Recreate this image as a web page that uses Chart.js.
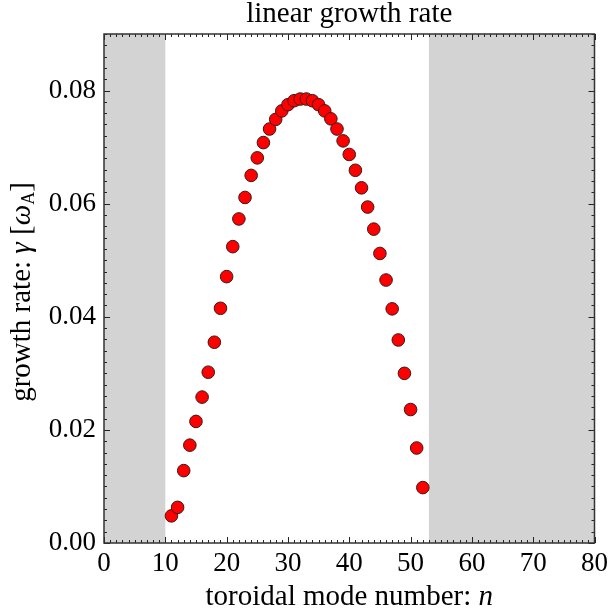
<!DOCTYPE html>
<html>
<head>
<meta charset="utf-8">
<script src="https://cdn.jsdelivr.net/npm/chart.js@4/dist/chart.umd.min.js"></script>
<style>
  html, body { margin: 0; padding: 0; background: #fff; }
  #wrap { width: 613px; height: 613px; }
</style>
</head>
<body>
<div id="wrap"><canvas id="chart" width="613" height="613"></canvas></div>
<script>
// toroidal mode numbers and their linear growth rates
const modeNumbers = [11, 12, 13, 14, 15, 16, 17, 18, 19, 20, 21, 22, 23, 24, 25, 26,
  27, 28, 29, 30, 31, 32, 33, 34, 35, 36, 37, 38, 39, 40, 41, 42, 43, 44, 45, 46,
  47, 48, 49, 50, 51, 52];
const growthRates = [0.0048, 0.0063, 0.0128, 0.0173, 0.0215, 0.0258, 0.0302, 0.0355,
  0.0415, 0.0471, 0.0524, 0.0573, 0.0611, 0.0650, 0.0681, 0.0708, 0.0732, 0.0749,
  0.0764, 0.0775, 0.0782, 0.0785, 0.0785, 0.0782, 0.0775, 0.0764, 0.0750, 0.0732,
  0.0711, 0.0687, 0.0659, 0.0628, 0.0594, 0.0555, 0.0512, 0.0465, 0.0414, 0.0359,
  0.0300, 0.0236, 0.0168, 0.0098];

// shaded (excluded) n ranges
const shadedRanges = [[0, 10], [53, 80]];

const xTicks = [0, 10, 20, 30, 40, 50, 60, 70, 80];
const yTicks = [0, 0.02, 0.04, 0.06, 0.08];
const xMinorStep = 1;
const yMinorStep = 0.002;

const FONT = '"Liberation Serif", "DejaVu Serif", serif';

function drawParts(ctx, parts, cx, cy) {
  // parts: [text, font, dy]
  let total = 0;
  parts.forEach((p) => { ctx.font = p[1]; total += ctx.measureText(p[0]).width; });
  let x = cx - total / 2;
  ctx.textAlign = 'left';
  ctx.textBaseline = 'alphabetic';
  parts.forEach((p) => {
    ctx.font = p[1];
    ctx.fillText(p[0], x, cy + (p[2] || 0));
    x += ctx.measureText(p[0]).width;
  });
}

const shadePlugin = {
  id: 'shade',
  beforeDatasetsDraw(chart) {
    const { ctx, chartArea, scales } = chart;
    ctx.save();
    ctx.fillStyle = '#d3d3d3';
    shadedRanges.forEach(([a, b]) => {
      const x0 = scales.x.getPixelForValue(a);
      const x1 = scales.x.getPixelForValue(b);
      ctx.fillRect(x0, chartArea.top, x1 - x0, chartArea.bottom - chartArea.top);
    });
    ctx.restore();
  },
};

const framePlugin = {
  id: 'frame',
  afterDatasetsDraw(chart) {
    const { ctx, chartArea: a, scales } = chart;
    ctx.save();
    ctx.strokeStyle = '#222';
    ctx.lineWidth = 1;
    const tick = (x0, y0, x1, y1) => {
      ctx.beginPath(); ctx.moveTo(x0, y0); ctx.lineTo(x1, y1); ctx.stroke();
    };
    // x ticks on top and bottom, inward
    for (let v = 0; v <= 80 + 1e-9; v += xMinorStep) {
      const major = xTicks.some((t) => Math.abs(t - v) < 1e-6);
      const len = major ? 6 : 3;
      const px = Math.round(scales.x.getPixelForValue(v)) + 0.5;
      tick(px, a.bottom, px, a.bottom - len);
      tick(px, a.top, px, a.top + len);
    }
    // y ticks on left and right, inward
    for (let i = 0; i <= 45; i++) {
      const v = i * yMinorStep;
      const major = yTicks.some((t) => Math.abs(t - v) < 1e-7);
      const len = major ? 6 : 3;
      const py = Math.round(scales.y.getPixelForValue(v)) + 0.5;
      tick(a.left, py, a.left + len, py);
      tick(a.right, py, a.right - len, py);
    }
    ctx.lineWidth = 1.5;
    ctx.strokeStyle = '#333';
    ctx.strokeRect(a.left, a.top, a.right - a.left, a.bottom - a.top);
    ctx.restore();
  },
};

const labelPlugin = {
  id: 'labels',
  afterDraw(chart) {
    const { ctx, chartArea: a } = chart;
    const cx = (a.left + a.right) / 2;
    ctx.save();
    ctx.fillStyle = '#000';
    // title
    drawParts(ctx, [['linear growth rate', '29px ' + FONT]], cx, 22);
    // x axis label
    drawParts(ctx, [
      ['toroidal mode number: ', '29px ' + FONT],
      ['n', 'italic 29px ' + FONT],
    ], cx, 605);
    // y axis label
    ctx.translate(30, 292);
    ctx.rotate(-Math.PI / 2);
    drawParts(ctx, [
      ['growth rate: ', '29px ' + FONT],
      ['\u03b3', 'italic 29px ' + FONT],
      [' [', '29px ' + FONT],
      ['\u03c9', 'italic 29px ' + FONT],
      ['A', '18px ' + FONT, 4],
      [']', '29px ' + FONT],
    ], 0, 0);
    ctx.restore();
  },
};

new Chart(document.getElementById('chart'), {
  type: 'scatter',
  data: {
    datasets: [{
      data: modeNumbers.map((n, i) => ({ x: n, y: growthRates[i] })),
      backgroundColor: '#ff0000',
      borderColor: '#3a1a1a',
      borderWidth: 1,
      pointRadius: 6.3,
      pointHoverRadius: 6.3,
    }],
  },
  options: {
    responsive: false,
    animation: false,
    layout: { padding: { top: 34, right: 15, left: 0, bottom: 0 } },
    plugins: {
      legend: { display: false },
      tooltip: { enabled: false },
      title: { display: false },
    },
    scales: {
      x: {
        type: 'linear',
        min: 0,
        max: 80,
        afterBuildTicks: (s) => { s.ticks = xTicks.map((v) => ({ value: v })); },
        afterFit: (s) => { s.height = 70; },
        grid: { display: false, drawTicks: false },
        border: { display: false },
        ticks: {
          padding: 5,
          color: '#000',
          font: { family: FONT, size: 27 },
          maxRotation: 0,
          callback: (v) => String(v),
        },
      },
      y: {
        type: 'linear',
        min: 0,
        max: 0.09,
        afterBuildTicks: (s) => { s.ticks = yTicks.map((v) => ({ value: v })); },
        afterFit: (s) => { s.width = 104; },
        grid: { display: false, drawTicks: false },
        border: { display: false },
        ticks: {
          padding: 8,
          color: '#000',
          font: { family: FONT, size: 27 },
          callback: (v) => v.toFixed(2),
        },
      },
    },
  },
  plugins: [shadePlugin, framePlugin, labelPlugin],
});
</script>
</body>
</html>
